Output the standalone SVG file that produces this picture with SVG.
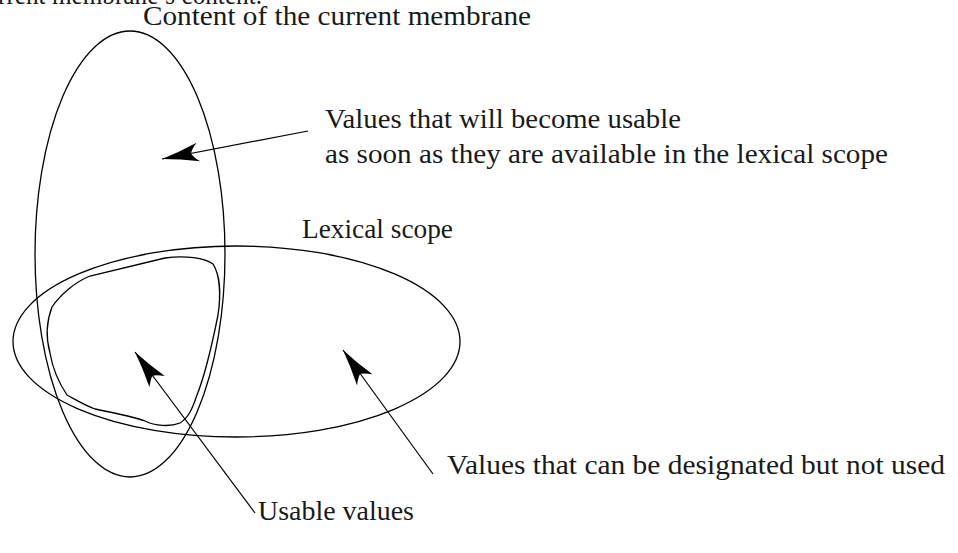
<svg xmlns="http://www.w3.org/2000/svg" width="958" height="553" viewBox="0 0 958 553">
<style>
.shape{fill:none;stroke:#000;stroke-width:1.3}
.conn{fill:none;stroke:#000;stroke-width:1.2}
.lbl{font-family:"Liberation Serif","DejaVu Serif",serif;font-size:26.5px;fill:#1a1a1a}
</style>
<defs>
<marker id="ah" markerUnits="userSpaceOnUse" markerWidth="40" markerHeight="24" viewBox="-38 -12 40 24" refX="0" refY="0" orient="auto" overflow="visible">
<path d="M0,0 Q-18,-3.5 -37,-9.5 Q-31,-4 -29.5,0 Q-31,4 -37,9.5 Q-18,3.5 0,0 Z" fill="#000"/>
</marker>
</defs>
<rect width="958" height="553" fill="#fff"/>
<text class="lbl" x="-2" y="4" textLength="264" lengthAdjust="spacingAndGlyphs">rrent membrane’s content.</text>
<g id="membrane">
<ellipse class="shape" cx="130" cy="254" rx="95" ry="223"/>
<text class="lbl" x="143" y="25" textLength="388" lengthAdjust="spacingAndGlyphs">Content of the current membrane</text>
</g>
<g id="lexical">
<ellipse class="shape" cx="236.5" cy="341.5" rx="223.5" ry="95.5"/>
<text class="lbl" x="302" y="238" textLength="151" lengthAdjust="spacingAndGlyphs">Lexical scope</text>
</g>
<g id="usable">
<path class="shape" d="M52,307 C60,295 75,282 90,276 L165,258 C185,255 205,258 213,264 C220,275 221,295 218,315 C212,345 205,375 197,395 C192,410 188,418 180,423 C170,427 155,426 145,421 C135,417 115,413 95,409 C82,404 75,399 67,395 C57,380 52,365 50,353 C45,335 47,320 52,307 Z"/>
</g>
<g id="label-future">
<text class="lbl" x="325" y="128" textLength="356" lengthAdjust="spacingAndGlyphs">Values that will become usable</text>
<text class="lbl" x="325" y="163" textLength="563" lengthAdjust="spacingAndGlyphs">as soon as they are available in the lexical scope</text>
</g>
<g id="label-designated">
<text class="lbl" x="447" y="474" textLength="498" lengthAdjust="spacingAndGlyphs">Values that can be designated but not used</text>
</g>
<g id="label-usable">
<text class="lbl" x="258" y="520" textLength="156" lengthAdjust="spacingAndGlyphs">Usable values</text>
</g>
<g id="connectors">
<line class="conn" x1="308" y1="131" x2="162" y2="159" marker-end="url(#ah)"/>
<line class="conn" x1="255" y1="513" x2="135" y2="352" marker-end="url(#ah)"/>
<line class="conn" x1="433" y1="474" x2="343" y2="350" marker-end="url(#ah)"/>
</g>
</svg>
